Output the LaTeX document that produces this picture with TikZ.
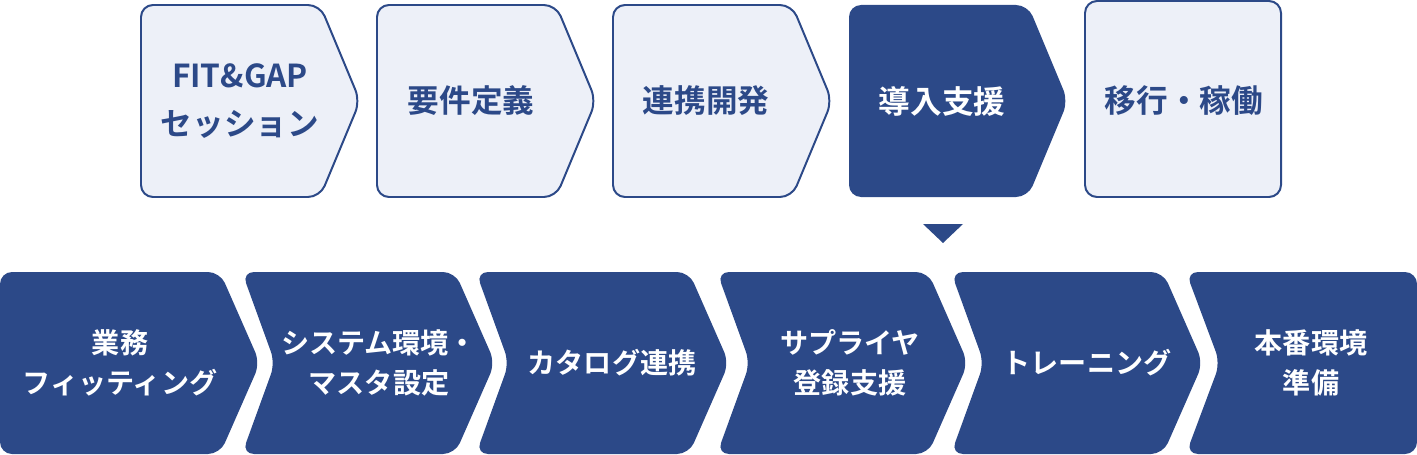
\documentclass[tikz,border=0pt]{standalone}
\usepackage{fontspec}
\setmainfont{Noto Sans CJK JP}[BoldFont={Noto Sans CJK JP Bold}]
\usetikzlibrary{positioning}
\definecolor{navy}{HTML}{2C4988}
\definecolor{pale}{HTML}{EDF0F8}
% #1 style, #2 left, #3 notch depth, #4 straight end, #5 tip, #6 bottom, #7 middle, #8 top
\newcommand{\chevbox}[8]{%
  \path[#1,rounded corners=0.24cm]
    (#2,#8) -- (#4,#8) -- (#5,#7) -- (#4,#6) -- (#2,#6) -- (#2+#3,#7) -- cycle;}
\begin{document}
\begin{tikzpicture}[x=0.02cm,y=0.02cm,
    light/.style={fill=pale,draw=navy,line width=1.5pt*0.75},
    dark/.style={fill=navy},
    uptext/.style={text=navy,font=\bfseries\fontsize{18}{27}\selectfont,align=center},
    downtext/.style={text=white,font=\bfseries\fontsize{16}{23}\selectfont,align=center},
  ]
  \useasboundingbox (0,0) rectangle (1417,454);
  % upper row
  \chevbox{light}{141}{0}{320}{360}{257}{353}{449}
  \chevbox{light}{377}{0}{556}{596}{257}{353}{449}
  \chevbox{light}{613}{0}{792}{832}{257}{353}{449}
  \chevbox{dark}{849}{0}{1028}{1068}{257}{353}{449}
  \path[light,rounded corners=0.24cm] (1085,257) rectangle (1281,453);
  \node[uptext] (fit) at (240,353) {FIT\&GAP\\セッション};
  \node[uptext] (req) at (471,353) {要件定義};
  \node[uptext] (dev) at (706,353) {連携開発};
  \node[uptext,text=white] (intro) at (942,353) {導入支援};
  \node[uptext] (run) at (1184,353) {移行・稼働};
  % marker
  \coordinate (mk) at (943,211);
  \fill[navy] (mk) -- ++(-20,19) -- ++(40,0) -- cycle;
  % lower row
  \chevbox{dark}{0}{0}{220}{260}{0}{91}{182}
  \chevbox{dark}{242}{33}{455}{495}{0}{91}{182}
  \chevbox{dark}{476}{33}{689}{729}{0}{91}{182}
  \chevbox{dark}{717}{33}{928}{968}{0}{91}{182}
  \chevbox{dark}{951}{33}{1163}{1203}{0}{91}{182}
  \path[dark,rounded corners=0.24cm]
    (1186,182) -- (1417,182) -- (1417,0) -- (1186,0) -- (1220,91) -- cycle;
  \node[downtext] (fitting) at (120,91) {業務\\フィッティング};
  \node[downtext] (master) at (379,91) {システム環境・\\マスタ設定};
  \node[downtext] (catalog) at (612,91) {カタログ連携};
  \node[downtext] (supplier) at (850,91) {サプライヤ\\登録支援};
  \node[downtext] (training) at (1087,91) {トレーニング};
  \node[downtext] (prod) at (1311,91) {本番環境\\準備};
\end{tikzpicture}
\end{document}
